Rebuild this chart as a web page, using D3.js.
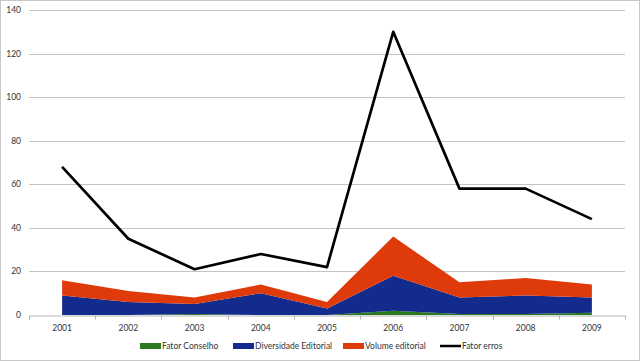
<!DOCTYPE html>
<html>
<head>
<meta charset="utf-8">
<script src="https://cdn.jsdelivr.net/npm/d3@7"></script>
<style>
  body { margin: 0; background: #fff; }
  svg { display: block; font-family: Lato, "Liberation Sans", sans-serif; }
</style>
</head>
<body>
<svg></svg>
<script>
var years = ["2001","2002","2003","2004","2005","2006","2007","2008","2009"];
var fatorConselho = [0, 0, 0.5, 0, 0, 2, 0.5, 0.5, 1];
var diversidade = [9, 6, 4.5, 10, 3, 16, 7.5, 8.5, 7];
var volume = [7, 5, 3, 4, 3, 18, 7, 8, 6];
var fatorErros = [68, 35, 21, 28, 22, 130, 58, 58, 44];
var yTicks = [0, 20, 40, 60, 80, 100, 120, 140];

var seriesNames = ["Fator Conselho", "Diversidade Editorial", "Volume editorial"];
var seriesColors = ["#2b7a1f", "#132b8c", "#df3a0a"];

var W = 640, H = 361,
 margin = {top: 10, right: 15, bottom: 46, left: 29};

var svg = d3.select("svg").attr("width", W).attr("height", H);

svg.append("rect")
 .attr("x", 0.5).attr("y", 0.5)
 .attr("width", W - 1).attr("height", H - 1)
 .attr("fill", "#fff").attr("stroke", "#c8c8c8");

var x = d3.scaleBand()
 .domain(years)
 .range([margin.left, W - margin.right]);

var y = d3.scaleLinear()
 .domain([0, 140])
 .range([H - margin.bottom, margin.top]);

var cx = function(d) { return x(d) + x.bandwidth() / 2; };

// gridlines
svg.append("g")
 .selectAll("line")
 .data(yTicks.slice(1))
 .enter().append("line")
 .attr("x1", margin.left).attr("x2", W - margin.right)
 .attr("y1", function(d) { return Math.round(y(d)) + 0.5; })
 .attr("y2", function(d) { return Math.round(y(d)) + 0.5; })
 .attr("stroke", "#c4c4c4");

// y labels
svg.append("g")
 .selectAll("text")
 .data(yTicks)
 .enter().append("text")
 .attr("x", 21)
 .attr("y", function(d) { return y(d) + 3; })
 .attr("text-anchor", "end")
 .attr("font-size", 8.5)
 .attr("fill", "#333")
 .text(function(d) { return d; });

// stacked areas
var table = years.map(function(yr, i) {
  return {year: yr, "Fator Conselho": fatorConselho[i], "Diversidade Editorial": diversidade[i], "Volume editorial": volume[i]};
});
var stack = d3.stack().keys(seriesNames)(table);

var area = d3.area()
 .x(function(d) { return cx(d.data.year); })
 .y0(function(d) { return y(d[0]); })
 .y1(function(d) { return y(d[1]); });

svg.append("g")
 .selectAll("path")
 .data(stack)
 .enter().append("path")
 .attr("d", area)
 .attr("fill", function(d, i) { return seriesColors[i]; });

// bottom axis
var xAxis = d3.axisBottom(x).tickSize(0).tickPadding(9);
var gx = svg.append("g")
 .attr("transform", "translate(0," + (Math.round(y(0)) + 0.5) + ")")
 .call(xAxis);
gx.select(".domain").attr("stroke", "#b4b4b4");
gx.selectAll("text").attr("font-size", 8.5).attr("fill", "#333").attr("font-family", "Lato, sans-serif");
gx.selectAll(".sep")
 .data(years.concat(["end"]))
 .enter().append("line")
 .attr("class", "sep")
 .attr("x1", function(d, i) { return Math.round(margin.left + i * x.bandwidth()) + 0.5; })
 .attr("x2", function(d, i) { return Math.round(margin.left + i * x.bandwidth()) + 0.5; })
 .attr("y1", 0).attr("y2", 4)
 .attr("stroke", "#b4b4b4");

// line
var line = d3.line()
 .x(function(d, i) { return cx(years[i]); })
 .y(function(d) { return y(d); });

svg.append("path")
 .datum(fatorErros)
 .attr("d", line)
 .attr("fill", "none")
 .attr("stroke", "#000")
 .attr("stroke-width", 2.7)
 .attr("stroke-linejoin", "round");

// legend
var legendItems = [
  {name: "Fator Conselho", color: seriesColors[0], x: 140, type: "rect"},
  {name: "Diversidade Editorial", color: seriesColors[1], x: 233, type: "rect"},
  {name: "Volume editorial", color: seriesColors[2], x: 343, type: "rect"},
  {name: "Fator erros", color: "#000", x: 440, type: "line"}
];
var lg = svg.append("g").selectAll("g")
 .data(legendItems)
 .enter().append("g")
 .attr("transform", function(d) { return "translate(" + d.x + ",346)"; });

lg.filter(function(d) { return d.type == "rect"; })
 .append("rect")
 .attr("x", 0).attr("y", -3).attr("width", 21).attr("height", 6)
 .attr("fill", function(d) { return d.color; });

lg.filter(function(d) { return d.type == "line"; })
 .append("line")
 .attr("x1", 0).attr("x2", 21).attr("y1", 0).attr("y2", 0)
 .attr("stroke", "#000").attr("stroke-width", 2.5);

lg.append("text")
 .attr("x", 22).attr("y", 3)
 .attr("font-size", 8.5)
 .attr("fill", "#333")
 .text(function(d) { return d.name; });
</script>
</body>
</html>
